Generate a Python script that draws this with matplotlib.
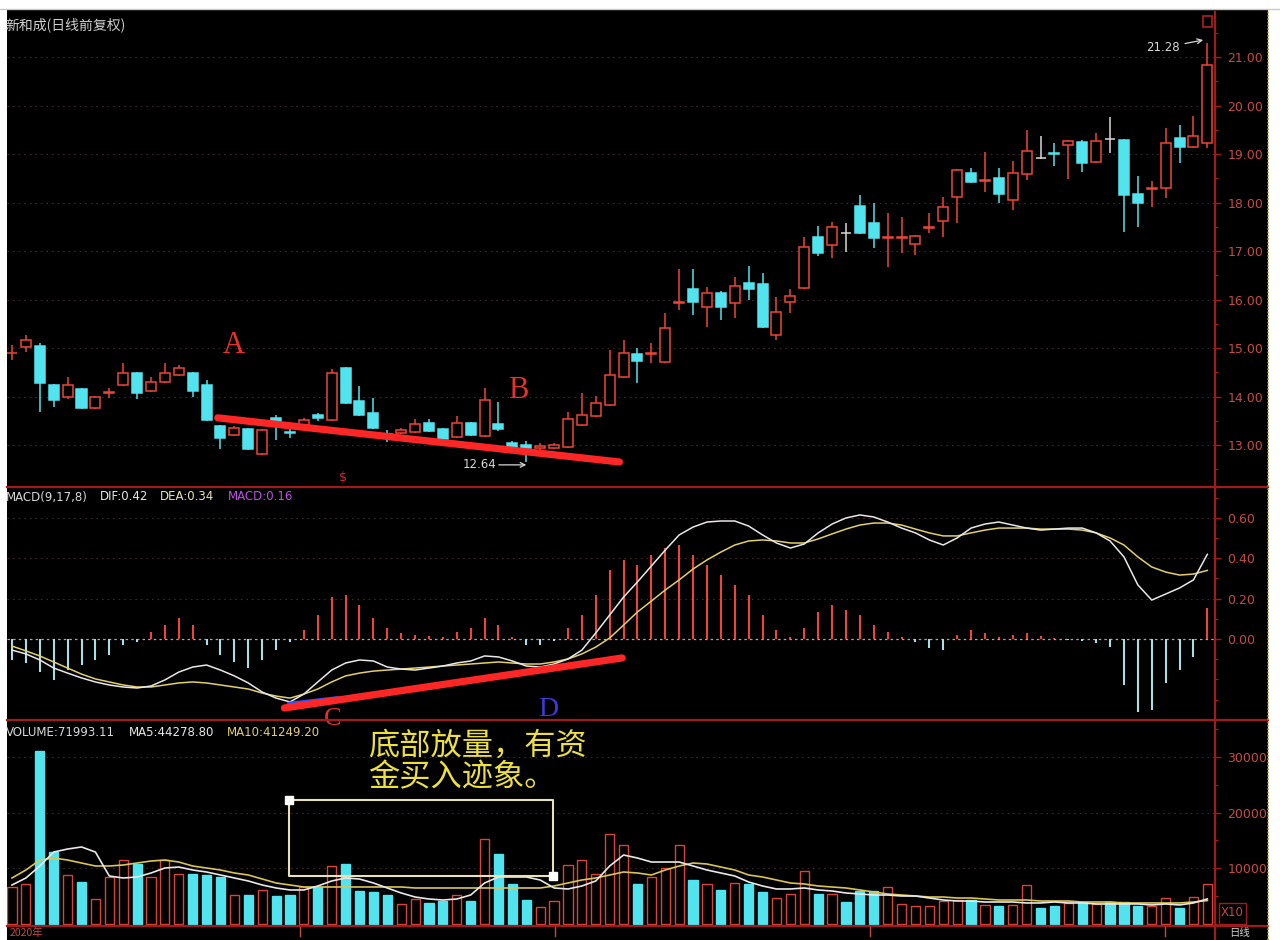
import numpy as np
import matplotlib
matplotlib.use("Agg")
import matplotlib.pyplot as plt
from matplotlib.patches import Rectangle
from matplotlib.lines import Line2D
from matplotlib.ticker import FormatStrFormatter, MultipleLocator

plt.rcParams["font.family"] = ["DejaVu Sans"]

# ---- daily candles ----
OPEN = [14.89, 15.02, 15.04, 14.24, 13.99, 14.15, 13.76, 14.08, 14.24, 14.48,
        14.11, 14.30, 14.44, 14.48, 14.24, 13.39, 13.21, 13.33, 12.81, 13.56,
        13.27, 13.41, 13.62, 13.52, 14.59, 13.91, 13.66, 13.23, 13.25, 13.27,
        13.45, 13.33, 13.16, 13.45, 13.19, 13.43, 13.04, 13.00, 12.94, 12.94,
        12.96, 13.41, 13.60, 13.82, 14.40, 14.88, 14.87, 14.71, 15.93, 16.22,
        15.85, 16.13, 15.93, 16.34, 16.32, 15.27, 15.95, 16.24, 17.29, 17.12,
        17.37, 17.93, 17.58, 17.26, 17.26, 17.14, 17.48, 17.62, 18.11, 18.61,
        18.45, 18.50, 18.05, 18.59, 18.92, 19.03, 19.18, 19.25, 18.83, 19.31,
        19.29, 18.17, 18.27, 18.30, 19.33, 19.14, 19.23]
HIGH = [15.06, 15.27, 15.10, 14.26, 14.40, 14.17, 14.01, 14.17, 14.69, 14.50,
        14.40, 14.69, 14.65, 14.50, 14.34, 13.41, 13.39, 13.35, 13.33, 13.62,
        13.35, 13.56, 13.66, 14.57, 14.61, 14.22, 13.97, 13.31, 13.35, 13.54,
        13.54, 13.35, 13.60, 13.47, 14.18, 13.89, 13.08, 13.08, 13.04, 13.04,
        13.68, 14.07, 14.01, 14.96, 15.17, 15.00, 15.10, 15.72, 16.63, 16.63,
        16.26, 16.18, 16.46, 16.69, 16.55, 16.05, 16.22, 17.29, 17.52, 17.60,
        17.58, 18.15, 17.99, 17.78, 17.70, 17.33, 17.78, 18.11, 18.69, 18.71,
        19.04, 18.71, 18.86, 19.50, 19.37, 19.23, 19.28, 19.28, 19.43, 19.76,
        19.31, 18.55, 18.44, 19.54, 19.60, 19.78, 21.28]
LOW = [14.75, 14.92, 13.68, 13.78, 13.95, 13.74, 13.74, 13.97, 14.22, 13.95,
       14.09, 14.28, 14.42, 13.99, 13.50, 12.92, 13.19, 12.90, 12.79, 13.10,
       13.14, 13.39, 13.49, 13.50, 13.85, 13.60, 13.33, 13.06, 13.23, 13.25,
       13.27, 13.10, 13.14, 13.19, 13.16, 13.29, 12.90, 12.64, 12.90, 12.92,
       12.94, 13.39, 13.58, 13.80, 14.38, 14.28, 14.69, 14.69, 15.78, 15.68,
       15.43, 15.58, 15.62, 15.99, 15.41, 15.16, 15.72, 16.22, 16.90, 16.86,
       16.98, 17.35, 17.06, 16.67, 16.96, 16.92, 17.37, 17.29, 17.58, 18.40,
       18.22, 17.99, 17.85, 18.46, 18.90, 18.75, 18.48, 18.63, 18.81, 19.02,
       17.39, 17.49, 17.91, 18.09, 18.81, 19.12, 19.12]
CLOSE = [14.90, 15.16, 14.28, 13.93, 14.24, 13.76, 13.99, 14.10, 14.48, 14.07,
         14.30, 14.48, 14.59, 14.11, 13.52, 13.14, 13.35, 12.92, 13.31, 13.47,
         13.25, 13.52, 13.56, 14.48, 13.87, 13.62, 13.35, 13.19, 13.31, 13.43,
         13.29, 13.12, 13.45, 13.21, 13.93, 13.33, 12.96, 12.94, 12.98, 13.00,
         13.54, 13.62, 13.87, 14.44, 14.90, 14.73, 14.89, 15.41, 15.95, 15.95,
         16.13, 15.85, 16.28, 16.22, 15.43, 15.74, 16.07, 17.08, 16.96, 17.49,
         17.37, 17.37, 17.27, 17.28, 17.28, 17.31, 17.50, 17.91, 18.67, 18.42,
         18.47, 18.18, 18.61, 19.06, 18.92, 19.01, 19.26, 18.81, 19.27, 19.31,
         18.15, 17.99, 18.29, 19.23, 19.14, 19.37, 20.84]

# ---- volume (axis units, x10) ----
VOLUME = [6490, 7200, 31170, 12800, 8650, 7390, 4500, 8300, 11500, 10800,
          8300, 11500, 9000, 9000, 8650, 8300, 5050, 5050, 5950, 4950,
          5050, 6500, 6500, 10450, 10800, 5770, 5600, 5200, 3500, 4500,
          3690, 4000, 5050, 4140, 15300, 12600, 7200, 4300, 3060, 4000,
          10630, 11530, 9000, 16200, 14200, 7200, 8300, 10000, 14200, 7750,
          7100, 5950, 7380, 7200, 5680, 4680, 5400, 9400, 5230, 5230,
          3870, 5770, 5770, 6500, 3600, 3240, 3240, 4140, 4320, 4320,
          3420, 3240, 3420, 6850, 2880, 3240, 3780, 3960, 3600, 3960,
          3960, 3240, 3240, 4680, 2790, 4860, 7200]
VOL_MA5 = [6940, 8200, 10360, 12880, 13420, 13790, 12880, 8560, 8200, 8380,
           9100, 10000, 10180, 9640, 9280, 8740, 8200, 7660, 6940, 6400,
           6040, 6040, 6760, 7660, 8200, 8020, 7300, 6400, 5500, 4775,
           4415, 4235, 4415, 5135, 7300, 8380, 8380, 8380, 7840, 6400,
           6220, 6760, 7660, 10360, 12340, 11800, 11080, 11080, 11080, 10360,
           9640, 9100, 8560, 7480, 6760, 6220, 6220, 6400, 6040, 5860,
           5500, 5320, 5135, 5135, 4955, 4955, 4595, 4235, 4055, 4055,
           3875, 3875, 3875, 3700, 3700, 3875, 3700, 3700, 3520, 3520,
           3520, 3520, 3340, 3520, 3340, 3700, 4428]
VOL_MA10 = [8200, 9640, 11440, 11800, 11440, 10900, 10360, 10360, 10540, 10900,
            11260, 11440, 11080, 10360, 10000, 9640, 9100, 8740, 8020, 7300,
            6940, 6580, 6580, 6580, 6580, 6580, 6580, 6580, 6580, 6400,
            6400, 6400, 6400, 6400, 6400, 6400, 6400, 6400, 6400, 6760,
            7300, 7840, 8200, 8740, 9280, 9100, 8740, 9640, 10360, 10900,
            10720, 10180, 9640, 8740, 8380, 7840, 7300, 7120, 6760, 6580,
            6400, 6040, 5680, 5320, 5135, 4955, 4775, 4775, 4595, 4595,
            4415, 4235, 4235, 4235, 4055, 4055, 4055, 3875, 3875, 3875,
            3700, 3700, 3700, 3700, 3700, 3875, 4125]

# ---- MACD(9,17,8) ----
DIF = [-0.055, -0.074, -0.104, -0.144, -0.169, -0.193, -0.213, -0.228, -0.238, -0.243,
       -0.233, -0.203, -0.164, -0.139, -0.129, -0.154, -0.183, -0.218, -0.263, -0.293,
       -0.312, -0.273, -0.213, -0.154, -0.119, -0.104, -0.109, -0.139, -0.149, -0.154,
       -0.144, -0.134, -0.119, -0.109, -0.084, -0.089, -0.109, -0.134, -0.139, -0.124,
       -0.099, -0.055, 0.030, 0.119, 0.208, 0.283, 0.362, 0.441, 0.516, 0.555,
       0.580, 0.585, 0.585, 0.560, 0.516, 0.476, 0.451, 0.471, 0.526, 0.570,
       0.600, 0.615, 0.605, 0.580, 0.550, 0.526, 0.491, 0.466, 0.501, 0.550,
       0.570, 0.580, 0.565, 0.550, 0.540, 0.545, 0.550, 0.550, 0.526, 0.486,
       0.407, 0.268, 0.193, 0.223, 0.253, 0.293, 0.420]
DEA = [-0.035, -0.059, -0.084, -0.114, -0.144, -0.174, -0.198, -0.213, -0.228, -0.238,
       -0.238, -0.228, -0.218, -0.213, -0.218, -0.228, -0.238, -0.248, -0.268, -0.283,
       -0.293, -0.273, -0.248, -0.213, -0.183, -0.169, -0.159, -0.154, -0.149, -0.144,
       -0.139, -0.134, -0.129, -0.124, -0.119, -0.114, -0.119, -0.124, -0.124, -0.114,
       -0.099, -0.074, -0.040, 0.005, 0.069, 0.134, 0.188, 0.243, 0.293, 0.347,
       0.392, 0.431, 0.466, 0.486, 0.491, 0.486, 0.476, 0.476, 0.496, 0.521,
       0.545, 0.565, 0.575, 0.575, 0.565, 0.545, 0.526, 0.511, 0.511, 0.526,
       0.540, 0.550, 0.550, 0.550, 0.545, 0.545, 0.545, 0.540, 0.526, 0.501,
       0.466, 0.407, 0.357, 0.332, 0.317, 0.322, 0.340]
MACD_HIST = [-0.104, -0.119, -0.164, -0.203, -0.154, -0.129, -0.104, -0.079, -0.030, -0.015,
             0.035, 0.069, 0.104, 0.069, -0.030, -0.079, -0.114, -0.144, -0.104, -0.055,
             -0.015, 0.045, 0.119, 0.208, 0.218, 0.169, 0.104, 0.055, 0.030, 0.020,
             0.015, 0.010, 0.035, 0.055, 0.104, 0.069, 0.010, -0.030, -0.030, -0.010,
             0.055, 0.119, 0.218, 0.342, 0.392, 0.367, 0.416, 0.451, 0.466, 0.416,
             0.367, 0.317, 0.268, 0.218, 0.119, 0.045, 0.010, 0.055, 0.134, 0.169,
             0.144, 0.119, 0.069, 0.035, 0.010, -0.015, -0.045, -0.055, 0.020, 0.045,
             0.030, 0.010, 0.020, 0.030, 0.015, 0.005, -0.005, -0.010, -0.020, -0.040,
             -0.228, -0.362, -0.352, -0.218, -0.154, -0.089, 0.154]

PRICE_TICKS = [13, 14, 15, 16, 17, 18, 19, 20, 21]
MACD_TICKS = [0.0, 0.2, 0.4, 0.6]
VOL_TICKS = [10000, 20000, 30000]

# hand-drawn annotations (bar index, value)
PRICE_LINE = ([14.8, 43.7], [13.56, 12.65])
MACD_LINE = ([19.6, 43.9], [-0.342, -0.094])
BOX_X = [19.9, 38.9]
BOX_Y = [8560, 22250]

UP_RED = "#f04438"
DOWN_CYAN = "#52e4ee"
FLAT = "#d8d8d8"
AXIS_RED = "#a01c1c"
LABEL_RED = "#c84a44"
W, H = 1280, 940
CJK = ["Noto Sans CJK SC", "DejaVu Sans"]


def fx(x):
    return x / W


def fy(y):
    return 1 - y / H


fig = plt.figure(figsize=(12.8, 9.4), dpi=100, facecolor="white")
fig.add_artist(Rectangle((fx(7), 0), fx(1268) - fx(7), fy(10), transform=fig.transFigure,
                         facecolor="black", edgecolor="none", zorder=-10))
fig.add_artist(Line2D([0, 1], [fy(9), fy(9)], transform=fig.transFigure, color="#c8c8c8", lw=1))

XLIM = (-0.36, 86.55)
idx = np.arange(len(OPEN))


def panel(top, bottom):
    ax = fig.add_axes([fx(7), fy(bottom), fx(1215) - fx(7), (bottom - top) / H])
    ax.set_facecolor("none")
    for s in ("top", "bottom", "left"):
        ax.spines[s].set_visible(False)
    ax.spines["right"].set_color(AXIS_RED)
    ax.spines["right"].set_linewidth(1.6)
    ax.yaxis.tick_right()
    ax.tick_params(axis="y", which="major", colors=AXIS_RED, labelcolor=LABEL_RED,
                   labelsize=9, length=4, width=1, pad=5)
    ax.tick_params(axis="y", which="minor", colors=AXIS_RED, length=2.5, width=0.8)
    ax.set_xticks([])
    ax.set_xlim(*XLIM)
    return ax


# ---------------- price panel ----------------
ax_p = panel(12, 487)
ax_p.set_ylim(12.134, 21.928)
ax_p.set_yticks(PRICE_TICKS)
ax_p.yaxis.set_minor_locator(MultipleLocator(0.5))
ax_p.yaxis.set_major_formatter(FormatStrFormatter("%.2f"))
for t in PRICE_TICKS:
    ax_p.axhline(t, color="#3e2a2a", lw=0.8, linestyle=(0, (1.5, 3.5)), zorder=0)

BW = 0.72
for i in idx:
    o, h, l, c = OPEN[i], HIGH[i], LOW[i], CLOSE[i]
    if c > o:
        col, face = UP_RED, "black"
    elif c < o:
        col, face = DOWN_CYAN, DOWN_CYAN
    else:
        col, face = FLAT, FLAT
    ax_p.vlines(i, l, h, color=col, lw=1.1, zorder=2)
    ax_p.add_patch(Rectangle((i - BW / 2, min(o, c)), BW, abs(c - o), facecolor=face,
                             edgecolor=col, lw=1.1, zorder=3))

ax_p.plot(*PRICE_LINE, color="#ff2626", lw=5.2, solid_capstyle="round", zorder=5)
ax_p.text(15.97, 15.06, "A", color="#e8302c", fontsize=22, family="Liberation Serif",
          ha="center", va="center", zorder=6)
ax_p.text(36.4, 14.13, "B", color="#e8302c", fontsize=22, family="Liberation Serif",
          ha="center", va="center", zorder=6)
ax_p.annotate("12.64", xy=(37.0, 12.59), xytext=(32.4, 12.59), color="#d8d8d8", fontsize=8.5,
              va="center", ha="left",
              arrowprops=dict(arrowstyle="->", color="#d8d8d8", lw=0.9, shrinkA=22, shrinkB=0))
ax_p.annotate("21.28", xy=(85.7, 21.35), xytext=(84.0, 21.19), color="#d8d8d8", fontsize=8.5,
              va="center", ha="right",
              arrowprops=dict(arrowstyle="->", color="#d8d8d8", lw=0.9, shrinkA=2, shrinkB=0))
ax_p.text(23.8, 12.32, r"\$", color="#d03030", fontsize=9, ha="center", va="center")

fig.text(fx(5), fy(25), "新和成(日线前复权)", color="#d0d0d0", fontsize=10,
         family=CJK, va="center", ha="left")
fig.add_artist(Rectangle((fx(1203), fy(27)), fx(9), 11 / H, transform=fig.transFigure,
                         facecolor="none", edgecolor="#b02020", lw=1.2))

# ---------------- MACD panel ----------------
ax_m = panel(487, 720)
ax_m.set_ylim(-0.4016, 0.7536)
ax_m.set_yticks(MACD_TICKS)
ax_m.yaxis.set_minor_locator(MultipleLocator(0.1))
ax_m.yaxis.set_major_formatter(FormatStrFormatter("%.2f"))
for t in MACD_TICKS[1:]:
    ax_m.axhline(t, color="#3e2a2a", lw=0.8, linestyle=(0, (1.5, 3.5)), zorder=0)
ax_m.axhline(0, color="#a8a8a8", lw=0.9, linestyle=(0, (2, 2.5)), zorder=1)

hist_cols = [UP_RED if v >= 0 else "#a6dfe6" for v in MACD_HIST]
ax_m.vlines(idx, 0, MACD_HIST, colors=hist_cols, lw=1.5, zorder=2)
ax_m.plot(idx, DEA, color="#e0d070", lw=1.1, zorder=3)
ax_m.plot(idx, DIF, color="#e8e8e8", lw=1.1, zorder=4)
ax_m.plot([19.9, 23.4], [-0.318, -0.290], color="#3050ff", lw=2, zorder=5)
ax_m.plot(*MACD_LINE, color="#ff2626", lw=5.2, solid_capstyle="round", zorder=6)
ax_m.text(23.1, -0.397, "C", color="#e8302c", fontsize=19, family="Liberation Serif",
          ha="center", va="center", zorder=7, clip_on=False)
ax_m.text(38.6, -0.352, "D", color="#4038d8", fontsize=20, family="Liberation Serif",
          ha="center", va="center", zorder=7, clip_on=False)

yh = fy(497)
fig.text(fx(6), yh, "MACD(9,17,8)", color="#d8d8d8", fontsize=8.5, va="center")
fig.text(fx(100), yh, "DIF:0.42", color="#e8e8e8", fontsize=8.5, va="center")
fig.text(fx(160), yh, "DEA:0.34", color="#e8e4c0", fontsize=8.5, va="center")
fig.text(fx(228), yh, "MACD:0.16", color="#c050e8", fontsize=8.5, va="center")

# ---------------- volume panel ----------------
ax_v = panel(720, 925)
ax_v.set_ylim(-270, 36670)
ax_v.set_yticks(VOL_TICKS)
ax_v.yaxis.set_minor_locator(MultipleLocator(5000))
ax_v.yaxis.set_major_formatter(FormatStrFormatter("%d"))
for t in VOL_TICKS:
    ax_v.axhline(t, color="#3e2a2a", lw=0.8, linestyle=(0, (1.5, 3.5)), zorder=0)

up = [c > o for o, c in zip(OPEN, CLOSE)]
faces = ["black" if u else DOWN_CYAN for u in up]
edges = ["#d8443a" if u else DOWN_CYAN for u in up]
ax_v.bar(idx, VOLUME, width=0.66, color=faces, edgecolor=edges, linewidth=1.0, zorder=2)
ax_v.plot(idx, VOL_MA10, color="#d8c458", lw=1.2, zorder=3)
ax_v.plot(idx, VOL_MA5, color="#e8e8e8", lw=1.2, zorder=4)

bx = [BOX_X[0], BOX_X[1], BOX_X[1], BOX_X[0], BOX_X[0]]
by = [BOX_Y[1], BOX_Y[1], BOX_Y[0], BOX_Y[0], BOX_Y[1]]
ax_v.plot(bx, by, color="#e8e2b8", lw=1.5, zorder=6)
ax_v.plot([BOX_X[0], BOX_X[1]], [BOX_Y[1], BOX_Y[0]], linestyle="none", marker="s",
          markersize=5.5, color="white", zorder=7)
ax_v.text(25.6, 32000, "底部放量，有资", color="#ece040", fontsize=22.5, family=CJK,
          ha="left", va="center", zorder=8)
ax_v.text(25.6, 26300, "金买入迹象。", color="#ece040", fontsize=22.5, family=CJK,
          ha="left", va="center", zorder=8)

yv = fy(732)
fig.text(fx(6), yv, "VOLUME:71993.11", color="#d8d8d8", fontsize=8.5, va="center")
fig.text(fx(129), yv, "MA5:44278.80", color="#e8e8e8", fontsize=8.5, va="center")
fig.text(fx(227), yv, "MA10:41249.20", color="#e0d070", fontsize=8.5, va="center")

fig.text(fx(1232), fy(913), "X10", color=LABEL_RED, fontsize=8.5, ha="center", va="center")
fig.add_artist(Rectangle((fx(1219), fy(924)), fx(27), 21 / H, transform=fig.transFigure,
                         facecolor="none", edgecolor=AXIS_RED, lw=1))

# panel separators, frame
for yy in (487, 720, 926):
    fig.add_artist(Line2D([fx(7), fx(1268)], [fy(yy), fy(yy)], transform=fig.transFigure,
                          color=AXIS_RED, lw=1.6))
fig.add_artist(Line2D([fx(1215), fx(1215)], [fy(926), fy(940)], transform=fig.transFigure,
                      color=AXIS_RED, lw=1.6))
fig.add_artist(Line2D([fx(1268), fx(1268)], [0, fy(10)], transform=fig.transFigure,
                      color="#b09020", lw=1.2, linestyle=(0, (1, 1))))

# bottom date strip
fig.text(fx(10), fy(933), "2020年", color=LABEL_RED, fontsize=7.5, va="center", family=CJK)
for xx in (300, 555, 870, 1165):
    fig.add_artist(Line2D([fx(xx), fx(xx)], [fy(927), fy(936)], transform=fig.transFigure,
                          color=LABEL_RED, lw=1))
fig.text(fx(1240), fy(933), "日线", color="#d0d0d0", fontsize=7.5, va="center", ha="center",
         family=CJK)

fig.savefig("out.png", dpi=100, facecolor="white")
